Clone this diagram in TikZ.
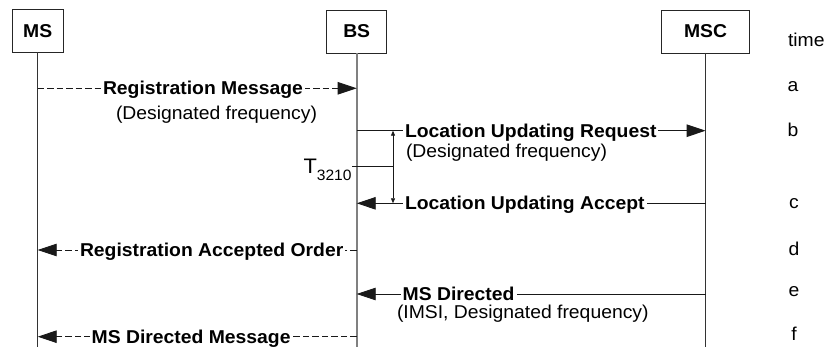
\documentclass[tikz,border=0pt]{standalone}
\usepackage{fontspec}
\setmainfont[FakeStretch=1.04]{Liberation Sans}
\usetikzlibrary{arrows.meta}

\begin{document}
\begin{tikzpicture}[x=1pt,y=-1pt,
  every node/.style={inner sep=0pt, outer sep=0pt},
  entity/.style={draw=black!85, line width=0.8pt, minimum height=43pt,
    font=\fontsize{18.6}{20}\selectfont\bfseries},
  life/.style={line width=0.8pt, draw=black!80},
  bslife/.style={line width=1.7pt, draw=black!50},
  msg/.style={line width=0.9pt, draw=black!90},
  dashmsg/.style={msg, dash pattern=on 6.5pt off 3pt},
  bigtip/.style={-{Triangle[length=19pt,width=12.5pt]}},
  lbl/.style={font=\fontsize{18.6}{20}\selectfont\bfseries, fill=white,
    inner xsep=2pt, anchor=base west},
  note/.style={font=\fontsize{18.6}{20}\selectfont, anchor=base west},
  tick/.style={font=\fontsize{18.6}{20}\selectfont, anchor=base}]

\useasboundingbox (0,0) rectangle (827,347);

% entities
\node[entity, minimum width=51pt] (ms)  at (37.7,31) {MS};
\node[entity, minimum width=60pt] (bs)  at (356.7,31.5) {BS};
\node[entity, minimum width=87.6pt] (msc) at (705.6,31.5) {MSC};

% rows
\coordinate (ya) at (0,88.3);
\coordinate (yb) at (0,130.7);
\coordinate (yt) at (0,166.5);
\coordinate (yc) at (0,203.3);
\coordinate (yd) at (0,250);
\coordinate (ye) at (0,294);
\coordinate (yf) at (0,336.7);
\coordinate (bottom) at (0,347);

% lifelines
\draw[life] (ms.south) -- (ms |- bottom);
\draw[bslife] (bs.south) -- (bs |- bottom);
\draw[life] (msc.south) -- (msc |- bottom);

% messages
\draw[dashmsg, bigtip] (ms |- ya) -- (bs |- ya);
\draw[msg, bigtip] (bs |- yb) -- (msc |- yb);
\draw[msg, bigtip] (msc |- yc) -- (bs |- yc);
\draw[dashmsg, bigtip] (bs |- yd) -- (ms |- yd);
\draw[msg, bigtip] (msc |- ye) -- (bs |- ye);
\draw[dashmsg, bigtip] (bs |- yf) -- (ms |- yf);

% timer T3210
\coordinate (tx) at (393,0);
\draw[msg, line width=0.8pt] ([xshift=-4.5pt]bs |- yt) -- (tx |- yt);
\draw[msg, line width=0.8pt, {Triangle[length=5pt,width=4pt]}-{Triangle[length=5pt,width=4pt]}]
  (tx |- yb) -- (tx |- yc);
\node[anchor=base west, font=\fontsize{21}{22}\selectfont] (tname) at (303.5,173.3)
  {T\raisebox{-7.5pt}{\fontsize{15}{16}\selectfont 3210}};

% message labels
\node[lbl] (l1) at (101,94.7) {Registration Message};
\node[note] (n1) at (116,119.3) {(Designated frequency)};
\node[lbl] (l2) at (403,137.1) {Location Updating Request};
\node[note] (n2) at (406,157.3) {(Designated frequency)};
\node[lbl] (l3) at (403,209.7) {Location Updating Accept};
\node[lbl] (l4) at (78,256.4) {Registration Accepted Order};
\node[lbl] (l5) at (400.7,300.4) {MS Directed};
\node[note] (n5) at (397,318.3) {(IMSI, Designated frequency)};
\node[lbl] (l6) at (89.7,343.1) {MS Directed Message};

% time column
\node[note] (time) at (788,47) {time};
\node[tick] (ta) at (793,92)  {a};
\node[tick] (tb) at (793,136.7) {b};
\node[tick] (tc) at (794,208.3) {c};
\node[tick] (td) at (794,256) {d};
\node[tick] (te) at (794,296.5) {e};
\node[tick] (tf) at (794,340) {f};
\end{tikzpicture}
\end{document}
